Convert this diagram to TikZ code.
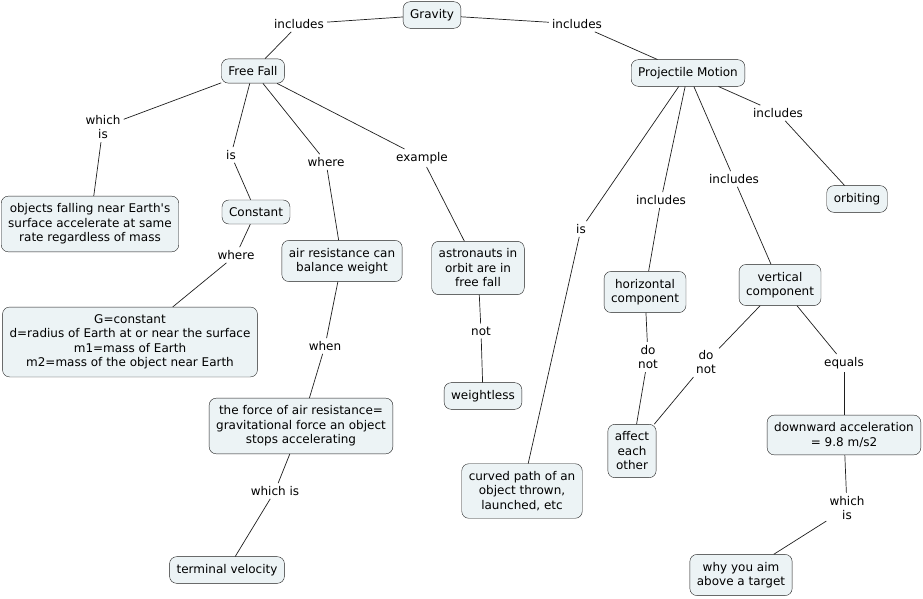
\documentclass[tikz,border=0pt]{standalone}
\usepackage{fontspec}
\setmainfont{DejaVu Sans}[Ligatures=TeXOff]
\usetikzlibrary{positioning}
\definecolor{conceptfill}{RGB}{236,243,245}
\definecolor{conceptline}{RGB}{30,30,30}

\begin{document}
\begin{tikzpicture}[x=1pt, y=-1pt,
  concept/.style={draw=conceptline, fill=conceptfill, rounded corners=7pt, align=center,
    inner xsep=7pt, inner ysep=7.5pt, font=\fontsize{12}{14.5}\selectfont},
  linkword/.style={align=center, inner sep=3pt, font=\fontsize{12}{14.5}\selectfont},
  link/.style={draw=conceptline, line width=0.7pt}]
  \useasboundingbox (0,0) rectangle (923,599);
  % concepts
  \node[concept] (gravity) at (432,15) {Gravity};
  \node[concept] (freefall) at (253,71) {Free Fall};
  \node[concept] (projectile) at (688,73) {Projectile Motion};
  \node[concept] (objects) at (90,224) {objects falling near Earth's\\surface accelerate at same\\rate regardless of mass};
  \node[concept] (constant) at (256,212) {Constant};
  \node[concept] (airres) at (342,261) {air resistance can\\balance weight};
  \node[concept] (astronauts) at (478,268) {astronauts in\\orbit are in\\free fall};
  \node[concept] (orbiting) at (857,199) {orbiting};
  \node[concept] (horizontal) at (645,292) {horizontal\\component};
  \node[concept] (vertical) at (780,285) {vertical\\component};
  \node[concept] (gconst) at (130,342) {G=constant\\d=radius of Earth at or near the surface\\m1=mass of Earth\\m2=mass of the object near Earth};
  \node[concept] (forceair) at (301,426) {the force of air resistance=\\gravitational force an object\\stops accelerating};
  \node[concept] (terminal) at (227,570) {terminal velocity};
  \node[concept] (weightless) at (483,396) {weightless};
  \node[concept] (curved) at (522,491) {curved path of an\\object thrown,\\launched, etc};
  \node[concept] (affect) at (632,451) {affect\\each\\other};
  \node[concept] (downward) at (844,435) {downward acceleration\\= 9.8 m/s2};
  \node[concept] (aim) at (741,575) {why you aim\\above a target};
  % linking words
  \node[linkword] (incFF) at (299,24) {includes};
  \node[linkword] (incPM) at (577,24) {includes};
  \node[linkword] (whichisA) at (103,127) {which\\is};
  \node[linkword] (isC) at (231,155) {is};
  \node[linkword] (whereA) at (326,162) {where};
  \node[linkword] (example) at (422,158) {example};
  \node[linkword] (whereG) at (236,255) {where};
  \node[linkword] (when) at (325,346) {when};
  \node[linkword] (whichisT) at (275,491) {which is};
  \node[linkword] (notW) at (481,331) {not};
  \node[linkword] (isCP) at (581,229) {is};
  \node[linkword] (incH) at (661,200) {includes};
  \node[linkword] (incV) at (734,179) {includes};
  \node[linkword] (incO) at (778,113) {includes};
  \node[linkword] (donotH) at (648,357) {do\\not};
  \node[linkword] (donotV) at (706,362) {do\\not};
  \node[linkword] (equals) at (844,363) {equals};
  \node[linkword] (whichisD) at (847,508) {which\\is};
  % connections
  \foreach \a/\l/\b in {gravity/incFF/freefall, gravity/incPM/projectile,
      freefall/whichisA/objects, freefall/isC/constant, freefall/whereA/airres,
      freefall/example/astronauts, constant/whereG/gconst, airres/when/forceair,
      forceair/whichisT/terminal, astronauts/notW/weightless,
      projectile/isCP/curved, projectile/incH/horizontal, projectile/incV/vertical,
      projectile/incO/orbiting, horizontal/donotH/affect, vertical/donotV/affect,
      vertical/equals/downward, downward/whichisD/aim} {
    \draw[link] (\a) -- (\l);
    \draw[link] (\l) -- (\b);
  }
\end{tikzpicture}
\end{document}
